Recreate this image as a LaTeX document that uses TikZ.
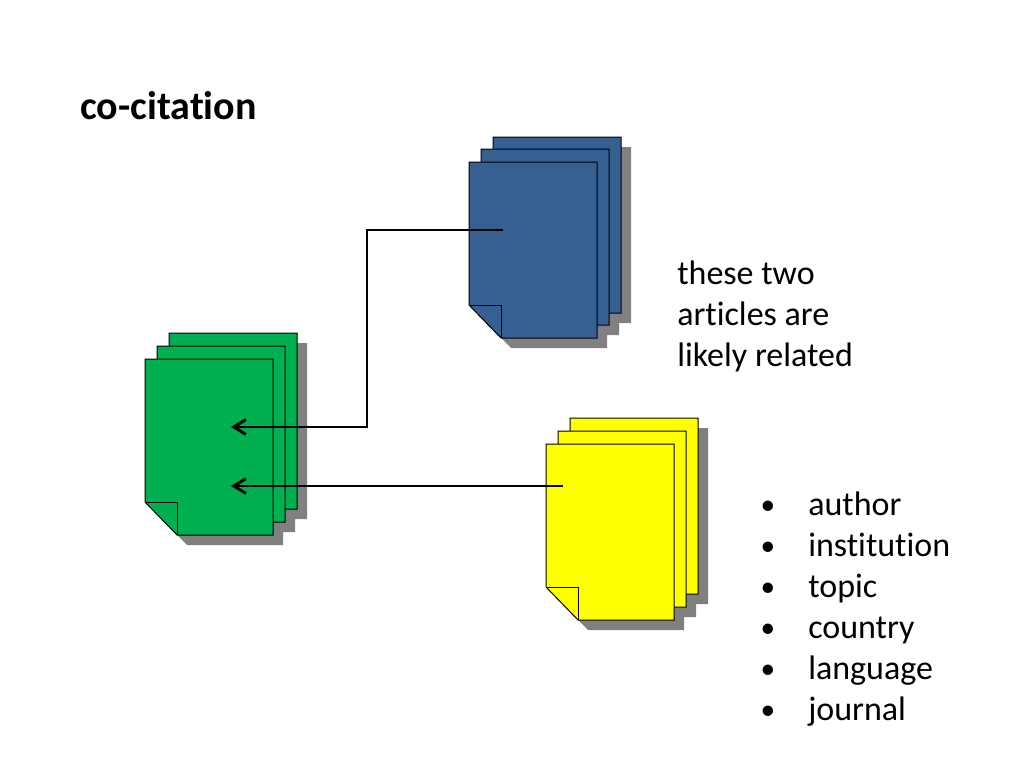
\documentclass[tikz,border=0pt]{standalone}
\usepackage{fontspec}
\setmainfont{Carlito}[Ligatures=NoCommon]
\usetikzlibrary{arrows.meta}
\definecolor{docgreen}{HTML}{00B050}
\definecolor{docblue}{HTML}{376092}
\definecolor{docyellow}{HTML}{FFFF00}
\definecolor{shadowgrey}{HTML}{808080}
\tikzset{
  pics/sheet/.style={code={
    \path[pic actions] (0,0) -- (128,0) -- (128,176) -- (32,176) -- (0,143) -- cycle;
    \path[pic actions, fill=none] (0,143) -- (32,143) -- (32,176);
  }},
  shadow/.style={fill=shadowgrey},
  page/.style={draw=black, line width=0.75pt, line join=miter},
  link/.style={line width=2.2pt, -{Straight Barb[length=9pt,width=11pt]}},
  txt/.style={inner sep=0pt, anchor=base west, font=\fontsize{25.5}{30}\selectfont},
  dot/.style={inner sep=0pt, anchor=base, font=\fontsize{22}{26}\selectfont},
}
\begin{document}
\begin{tikzpicture}[x=0.75pt,y=-0.75pt]
\useasboundingbox[fill=white] (0,0) rectangle (1024,768);
\node[inner sep=0pt, anchor=base west, font=\fontsize{30}{36}\selectfont\bfseries] (title) at (80,119){co-citation};
% blue stack
\pic[shadow] at (503,147) {sheet};
\pic[shadow] at (491,159) {sheet};
\pic[shadow] at (479,172) {sheet};
\pic[page, fill=docblue] at (493,137) {sheet};
\pic[page, fill=docblue] at (481,149) {sheet};
\pic[page, fill=docblue] at (469,162) {sheet};
\coordinate (bluedoc) at (503,230);
% green stack
\pic[shadow] at (179,343) {sheet};
\pic[shadow] at (167,356) {sheet};
\pic[shadow] at (155,369) {sheet};
\pic[page, fill=docgreen] at (169,333) {sheet};
\pic[page, fill=docgreen] at (157,346) {sheet};
\pic[page, fill=docgreen] at (145,359) {sheet};
\coordinate (greenA) at (231,427);
\coordinate (greenB) at (231,486);
% yellow stack
\pic[shadow] at (580,428) {sheet};
\pic[shadow] at (568,441) {sheet};
\pic[shadow] at (556,454) {sheet};
\pic[page, fill=docyellow] at (570,418) {sheet};
\pic[page, fill=docyellow] at (558,431) {sheet};
\pic[page, fill=docyellow] at (546,444) {sheet};
\coordinate (yellowdoc) at (563,486);
% links
\coordinate (bend) at (367,230);
\draw[link] (bluedoc) -- (bend) |- (greenA);
\draw[link] (yellowdoc) -- (greenB);
% text
\node[txt] (rel1) at (677,284){these two};
\node[txt] (rel2) at (677,325){articles are};
\node[txt] (rel3) at (677,366){likely related};
\node[dot] (dot1) at (768,514){•};
\node[txt] (item1) at (808,515){author};
\node[dot] (dot2) at (768,555){•};
\node[txt] (item2) at (808,556){institution};
\node[dot] (dot3) at (768,596){•};
\node[txt] (item3) at (808,597){topic};
\node[dot] (dot4) at (768,637){•};
\node[txt] (item4) at (808,638){country};
\node[dot] (dot5) at (768,678){•};
\node[txt] (item5) at (808,679){language};
\node[dot] (dot6) at (768,719){•};
\node[txt] (item6) at (808,720){journal};
\end{tikzpicture}
\end{document}
